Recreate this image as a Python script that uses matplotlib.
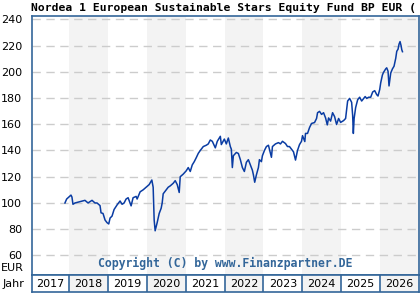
import matplotlib
matplotlib.use("Agg")
import matplotlib.pyplot as plt
from matplotlib.patches import Rectangle

title = "Nordea 1 European Sustainable Stars Equity Fund BP EUR ("
copyright_text = "Copyright (C) by www.Finanzpartner.DE"
years = [2017, 2018, 2019, 2020, 2021, 2022, 2023, 2024, 2025, 2026]
y_ticks = [60, 80, 100, 120, 140, 160, 180, 200, 220, 240]

t = [2017.897, 2017.941, 2018.052, 2018.077, 2018.103, 2018.155, 2018.284, 2018.412,
     2018.490, 2018.593, 2018.670, 2018.722, 2018.799, 2018.825, 2018.876, 2018.928,
     2018.979, 2019.023, 2019.057, 2019.108, 2019.160, 2019.237, 2019.314, 2019.366,
     2019.418, 2019.469, 2019.521, 2019.598, 2019.649, 2019.727, 2019.753, 2019.830,
     2019.907, 2019.985, 2020.062, 2020.131, 2020.165, 2020.191, 2020.216, 2020.268,
     2020.320, 2020.371, 2020.397, 2020.423, 2020.474, 2020.552, 2020.603, 2020.680,
     2020.732, 2020.784, 2020.835, 2020.861, 2020.938, 2021.015, 2021.067, 2021.119,
     2021.170, 2021.222, 2021.273, 2021.325, 2021.376, 2021.454, 2021.531, 2021.582,
     2021.634, 2021.686, 2021.763, 2021.814, 2021.892, 2021.918, 2021.995, 2022.046,
     2022.098, 2022.149, 2022.175, 2022.201, 2022.227, 2022.304, 2022.356, 2022.407,
     2022.459, 2022.510, 2022.562, 2022.613, 2022.665, 2022.716, 2022.742, 2022.776,
     2022.820, 2022.871, 2022.897, 2022.948, 2022.974, 2023.026, 2023.077, 2023.129,
     2023.206, 2023.232, 2023.309, 2023.387, 2023.438, 2023.490, 2023.567, 2023.619,
     2023.670, 2023.722, 2023.773, 2023.825, 2023.876, 2023.928, 2023.979, 2024.005,
     2024.064, 2024.082, 2024.134, 2024.186, 2024.237, 2024.314, 2024.366, 2024.392,
     2024.443, 2024.495, 2024.546, 2024.598, 2024.642, 2024.675, 2024.727, 2024.778,
     2024.830, 2024.881, 2024.933, 2024.985, 2025.062, 2025.113, 2025.139, 2025.165,
     2025.216, 2025.268, 2025.294, 2025.312, 2025.332, 2025.371, 2025.423, 2025.474,
     2025.526, 2025.577, 2025.616, 2025.655, 2025.706, 2025.758, 2025.809, 2025.861,
     2025.912, 2025.946, 2025.990, 2026.015, 2026.059, 2026.085, 2026.144, 2026.170,
     2026.204, 2026.229, 2026.273, 2026.317, 2026.358, 2026.402, 2026.428, 2026.461,
     2026.487, 2026.513, 2026.539, 2026.557, 2026.575]

v = [100.0, 103.0, 106.0, 104.5, 99.0, 100.0, 101.0, 102.0,
     100.0, 102.0, 100.0, 100.0, 98.0, 92.5, 92.0, 87.0,
     85.0, 84.0, 88.5, 90.0, 95.0, 98.5, 101.5, 99.0,
     100.0, 103.0, 104.0, 97.8, 104.0, 105.0, 103.0, 108.5,
     110.0, 112.0, 114.0, 117.5, 112.0, 87.0, 78.8, 85.0,
     92.0, 96.0, 100.0, 107.0, 109.0, 112.0, 113.0, 115.0,
     117.0, 114.0, 108.0, 120.0, 122.0, 124.5, 127.0, 124.0,
     129.0, 131.5, 134.5, 137.8, 140.0, 143.0, 144.0, 145.0,
     148.0, 147.0, 142.0, 147.0, 150.8, 144.5, 148.7, 145.0,
     149.5, 143.0, 141.0, 127.0, 136.0, 138.5, 137.7, 133.0,
     127.0, 124.0, 131.0, 133.0, 129.0, 125.0, 121.5, 115.8,
     121.5, 127.0, 133.0, 131.5, 136.0, 140.0, 143.0, 144.0,
     134.8, 143.0, 145.0, 146.0, 145.0, 147.0, 145.3, 143.0,
     143.0, 141.0, 139.0, 132.7, 140.0, 144.5, 147.0, 151.3,
     146.8, 153.0, 153.0, 157.5, 160.6, 161.3, 164.4, 168.8,
     169.8, 167.5, 168.8, 164.8, 159.5, 164.8, 162.4, 168.8,
     165.8, 159.8, 164.4, 161.4, 162.8, 164.4, 171.2, 177.7,
     179.7, 176.7, 166.8, 153.0, 164.4, 172.7, 178.7, 180.6,
     177.7, 179.7, 181.1, 179.7, 180.6, 180.6, 184.6, 185.6,
     182.6, 181.5, 186.5, 191.5, 197.5, 199.4, 202.2, 203.0,
     200.4, 189.2, 199.0, 202.2, 204.2, 210.3, 215.6, 217.2,
     221.1, 223.0, 219.9, 216.8, 215.3]

line_color = "#0a3ca3"
frame_color = "#336699"
band_color = "#f3f3f3"

fig = plt.figure(figsize=(4.2, 3.0), dpi=100)
W, H = 420.0, 300.0
ax = fig.add_axes([32 / W, 25 / H, 387 / W, 259 / H])
xmin, xmax = 2017.05, 2027.0
ax.set_xlim(xmin, xmax)
ax.set_ylim(45.1, 242.5)

for y in years:
    if y % 2 == 0:
        ax.axvspan(y, y + 1, color=band_color, lw=0, zorder=0)

for yt in y_ticks:
    ax.axhline(yt, color="#cccccc", lw=1.0, dashes=(6, 4), zorder=1)

ax.plot(t, v, color=line_color, lw=1.1, zorder=3)

ax.set_yticks(y_ticks)
ax.set_yticklabels([str(y) for y in y_ticks], fontsize=8, family="DejaVu Sans")
ax.tick_params(axis="y", length=0, pad=7)
ax.set_xticks([])
for s in ax.spines.values():
    s.set_color(frame_color)
    s.set_linewidth(1.2)

ax.text(0.5, 0.02, copyright_text, transform=ax.transAxes, ha="center", va="bottom",
        fontsize=8.3, fontweight="bold", family="DejaVu Sans Mono", color=frame_color, zorder=4)

# Year bar
yb = fig.add_axes([32 / W, 8 / H, 387 / W, 17 / H])
yb.set_xlim(xmin, xmax)
yb.set_ylim(0, 1)
for y in years:
    if y % 2 == 0:
        yb.axvspan(y, y + 1, color=band_color, lw=0, zorder=0)
    if y > xmin:
        yb.axvline(y, color=frame_color, lw=1.2)
    lo = max(y, xmin)
    hi = min(y + 1, xmax)
    yb.text((lo + hi) / 2, 0.45, str(y), ha="center", va="center", fontsize=8,
            family="DejaVu Sans", color="black")
yb.set_xticks([])
yb.set_yticks([])
for s in yb.spines.values():
    s.set_color(frame_color)
    s.set_linewidth(1.2)

fig.text(24 / W, 1 - 268 / H, "EUR", ha="right", va="center", fontsize=8, family="DejaVu Sans")
fig.text(24 / W, 1 - 284 / H, "Jahr", ha="right", va="center", fontsize=8, family="DejaVu Sans")
fig.text(31 / W, 1 - 8 / H, title, ha="left", va="center", fontsize=8.2, fontweight="bold",
         family="DejaVu Sans Mono", color="black")

fig.savefig("out.png", dpi=100)
